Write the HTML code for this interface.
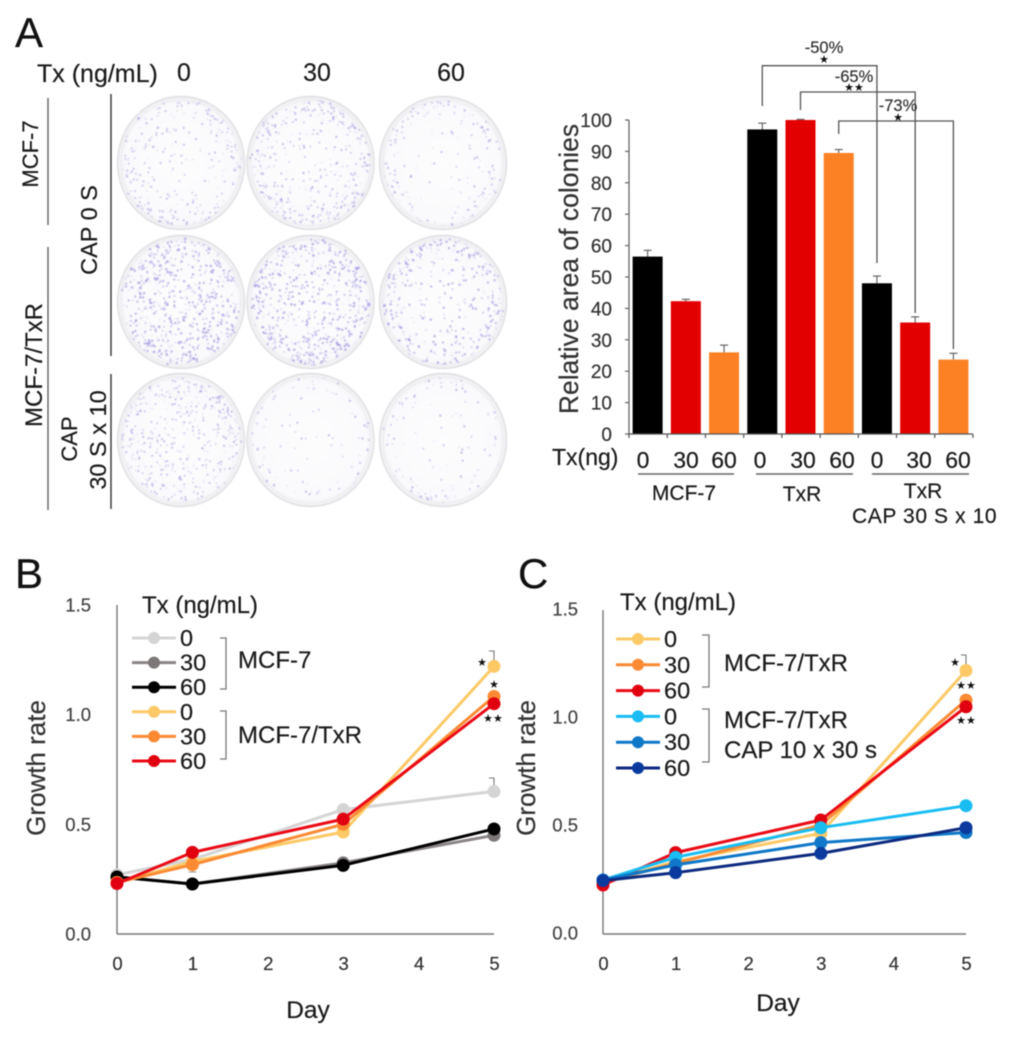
<!DOCTYPE html>
<html lang="en">
<head>
<meta charset="utf-8">
<title>Colony formation and growth rate figure</title>
<style>
html,body{margin:0;padding:0;background:#fff;width:1015px;height:1038px;overflow:hidden}
svg{display:block;filter:blur(0.45px)}
text{font-family:"Liberation Sans",Arial,sans-serif;stroke:currentColor;stroke-width:0.2px}
.star{font-family:"DejaVu Sans",sans-serif;stroke:none}
#plates{filter:blur(0.4px)}
</style>
</head>
<body>
<svg id="fig" xmlns="http://www.w3.org/2000/svg" width="1015" height="1038" viewBox="0 0 1015 1038">
  <defs>
    <radialGradient id="dish-shade">
      <stop offset="0" stop-color="#fdfdfe"/>
      <stop offset="0.88" stop-color="#fafafc"/>
      <stop offset="1" stop-color="#f1f1f4"/>
    </radialGradient>
  </defs>
  <g id="plates"></g>
  <g id="panel-a-labels">
    <text x="15" y="47" font-size="42" fill="#111" color="#111">A</text>
    <text x="37" y="82" font-size="25" fill="#1a1a1a" color="#1a1a1a">Tx (ng/mL)</text>
    <text x="184" y="81" font-size="25" fill="#1a1a1a" color="#1a1a1a" text-anchor="middle">0</text>
    <text x="317" y="81" font-size="25" fill="#1a1a1a" color="#1a1a1a" text-anchor="middle">30</text>
    <text x="451" y="81" font-size="25" fill="#1a1a1a" color="#1a1a1a" text-anchor="middle">60</text>
    <text transform="translate(38,154) rotate(-90)" font-size="22" fill="#1a1a1a" color="#1a1a1a" text-anchor="middle">MCF-7</text>
    <text transform="translate(42,365) rotate(-90)" font-size="24" fill="#1a1a1a" color="#1a1a1a" text-anchor="middle">MCF-7/TxR</text>
    <text transform="translate(97,230) rotate(-90)" font-size="23.5" fill="#1a1a1a" color="#1a1a1a" text-anchor="middle">CAP 0 S</text>
    <text transform="translate(77,439) rotate(-90)" font-size="22" fill="#1a1a1a" color="#1a1a1a" text-anchor="middle">CAP</text>
    <text transform="translate(106,440) rotate(-90)" font-size="23.5" fill="#1a1a1a" color="#1a1a1a" text-anchor="middle">30 S x 10</text>
    <line x1="48" y1="98" x2="48" y2="225" stroke="#555" stroke-width="1.3"/>
    <line x1="48" y1="247" x2="48" y2="510" stroke="#555" stroke-width="1.3"/>
    <line x1="111" y1="94" x2="111" y2="356" stroke="#333" stroke-width="1.4"/>
    <line x1="111" y1="374" x2="111" y2="509" stroke="#333" stroke-width="1.4"/>
  </g>
  <g id="bar-chart"></g>
  <g id="chart-b"></g>
  <g id="chart-c"></g>
</svg>
<script>
// ---------- Bar chart data ----------
const barGroups = ['MCF-7 0','MCF-7 30','MCF-7 60','TxR 0','TxR 30','TxR 60','CAP 0','CAP 30','CAP 60'];
const barValues = [56.5,42.3,26,97,100,89.5,48,35.5,23.7];
const barErrors = [2,0.6,2.3,2,0.2,1.1,2.3,1.8,2];
const barTicks = [0,10,20,30,40,50,60,70,80,90,100];
const barDoses = ['0','30','60','0','30','60','0','30','60'];

// ---------- Panel B data ----------
const days = [0,1,3,5];
const dayTicks = [0,1,2,3,4,5];
const growthTicks = ['0.0','0.5','1.0','1.5'];
const bGrey0 = [0.27,0.34,0.567,0.65];
const bGrey30 = [0.26,0.228,0.324,0.45];
const bBlack60 = [0.26,0.228,0.313,0.479];
const bYellow0 = [0.235,0.33,0.465,1.22];
const bOrange30 = [0.235,0.316,0.5,1.083];
const bRed60 = [0.23,0.372,0.524,1.05];

// ---------- Panel C data ----------
const cYellow0 = [0.24,0.335,0.466,1.22];
const cOrange30 = [0.24,0.327,0.505,1.083];
const cRed60 = [0.227,0.377,0.528,1.052];
const cCyan0 = [0.25,0.355,0.492,0.594];
const cBlue30 = [0.25,0.32,0.423,0.47];
const cNavy60 = [0.247,0.284,0.373,0.492];

const NS = 'http://www.w3.org/2000/svg';
function mk(parent, tag, attrs, name, text) {
  const el = document.createElementNS(NS, tag);
  for (const k in attrs) el.setAttribute(k, attrs[k]);
  if (tag === 'text' && attrs.fill) el.setAttribute('color', attrs.fill);
  
  
  if (text !== undefined) el.textContent = text;
  parent.appendChild(el);
  return el;
}

// ---------- Plates (texture only) ----------
(function () {
  const plates = document.getElementById('plates');
  const cols = [181, 310.5, 443];
  const rows = [163, 302, 440];
  const counts = [[260,380,170],[600,600,360],[420,90,110]];
  const edges = [[0.35,0.4,0.55],[0.15,0.15,0.45],[0.2,0.5,0.5]];
  let seed = 12345;
  const rnd = () => { seed = (seed * 1664525 + 1013904223) % 4294967296; return seed / 4294967296; };
  rows.forEach((cy, r) => cols.forEach((cx, c) => {
    const g = mk(plates, 'g', {}, 'plate-r' + (r + 1) + '-c' + (c + 1));
    mk(g, 'ellipse', {cx, cy, rx: 63.5, ry: 66.5, fill: 'url(#dish-shade)', stroke: '#cfcfd4', 'stroke-width': 0.9}, 'plate-dish');
    mk(g, 'ellipse', {cx, cy, rx: 60, ry: 63, fill: 'none', stroke: '#ebebee', 'stroke-width': 1}, 'plate-rim');
    let d = '';
    for (let i = 0; i < counts[r][c]; i++) {
      const a = rnd() * Math.PI * 2;
      const rad = rnd() < edges[r][c] ? 0.78 + rnd() * 0.2 : Math.sqrt(rnd()) * 0.95;
      const x = cx + Math.cos(a) * rad * 62;
      const y = cy + Math.sin(a) * rad * 65;
      const s = 0.35 + rnd() * (r === 1 ? 0.75 : 0.55);
      d += 'M' + (x - s).toFixed(1) + ' ' + y.toFixed(1) + 'a' + s.toFixed(2) + ' ' + s.toFixed(2) + ' 0 1 0 ' + (2 * s).toFixed(2) + ' 0a' + s.toFixed(2) + ' ' + s.toFixed(2) + ' 0 1 0 ' + (-2 * s).toFixed(2) + ' 0';
    }
    mk(g, 'path', {d, fill: '#8175d4', 'fill-opacity': 0.75}, 'plate-colonies');
  }));
})();

// ---------- Bar chart ----------
(function () {
  const root = document.getElementById('bar-chart');
  const x0 = 629, x1 = 973, y0 = 434, y100 = 120;
  const band = (x1 - x0) / barValues.length;
  const yb = v => y0 - (v / 100) * (y0 - y100);
  const xb = i => x0 + band * (i + 0.5);
  const colors = ['#000000','#e30000','#fc8125'];
  barValues.forEach((v, i) => {
    const cx = xb(i) - 0.5;
    const top = yb(v + barErrors[i]);
    mk(root, 'line', {x1: cx, x2: cx, y1: top, y2: yb(v), stroke: '#666', 'stroke-width': 1.2}, 'bar-error-stem');
    mk(root, 'line', {x1: cx - 4, x2: cx + 4, y1: top, y2: top, stroke: '#666', 'stroke-width': 1.2}, 'bar-error-cap');
    mk(root, 'rect', {x: cx - 15, y: yb(v), width: 30, height: y0 - yb(v), fill: colors[i % 3]}, 'bar-' + barGroups[i].toLowerCase().replace(/[^a-z0-9]+/g, '-'));
    mk(root, 'text', {x: [643,686,724,760,803,842,877,919,958][i], y: 468, 'font-size': 23, 'text-anchor': 'middle', fill: '#1a1a1a'}, 'x-dose-label', barDoses[i]);
  });
  mk(root, 'line', {x1: x0, x2: x0, y1: y100, y2: y0, stroke: '#666', 'stroke-width': 1.3}, 'y-axis');
  mk(root, 'line', {x1: x0 - 1, x2: x1, y1: y0, y2: y0, stroke: '#555', 'stroke-width': 1.3}, 'x-axis');
  barTicks.forEach(t => {
    mk(root, 'line', {x1: x0 - 4, x2: x0, y1: yb(t), y2: yb(t), stroke: '#666', 'stroke-width': 1.2}, 'y-tick');
    mk(root, 'text', {x: 612, y: yb(t) + 7, 'font-size': 19, 'text-anchor': 'end', fill: '#333'}, 'y-tick-label', t);
  });
  for (let i = 0; i <= barValues.length; i++) {
    mk(root, 'line', {x1: x0 + band * i, x2: x0 + band * i, y1: y0, y2: y0 + 4, stroke: '#555', 'stroke-width': 1.2}, 'x-tick');
  }
  mk(root, 'text', {transform: 'translate(578,269) rotate(-90)', 'font-size': 26.5, 'text-anchor': 'middle', fill: '#333'}, 'y-axis-title', 'Relative area of colonies');
  mk(root, 'text', {x: 552, y: 465, 'font-size': 23, fill: '#1a1a1a'}, 'x-tx-label', 'Tx(ng)');
  [[638,734],[756,853],[872,969]].forEach(s => mk(root, 'line', {x1: s[0], x2: s[1], y1: 474, y2: 474, stroke: '#666', 'stroke-width': 1.5}, 'group-underline'));
  mk(root, 'text', {x: 684, y: 500, 'font-size': 21, 'text-anchor': 'middle', fill: '#1a1a1a'}, 'group-label-mcf7', 'MCF-7');
  mk(root, 'text', {x: 802, y: 501, 'font-size': 21, 'text-anchor': 'middle', fill: '#1a1a1a'}, 'group-label-txr', 'TxR');
  mk(root, 'text', {x: 923, y: 498, 'font-size': 21, 'text-anchor': 'middle', fill: '#1a1a1a'}, 'group-label-txr-cap', 'TxR');
  mk(root, 'text', {x: 852, y: 523, 'font-size': 21, 'letter-spacing': 0.6, fill: '#1a1a1a'}, 'group-label-cap', 'CAP 30 S x 10');
  // significance brackets
  const br = [
    {from: 3, to: 6, fromY: 106, top: 65.7, toY: 263, label: '-50%', lx: 824, ly: 53, stars: '★', sy: 63},
    {from: 4, to: 7, fromY: 110, top: 92, toY: 313, label: '-65%', lx: 854, ly: 82, stars: '★★', sy: 91},
    {from: 5, to: 8, fromY: 134, top: 121, toY: 349, label: '-73%', lx: 898, ly: 111, stars: '★', sy: 121}
  ];
  br.forEach(b => {
    const xa = xb(b.from) - 0.5, xc = xb(b.to) - 0.5;
    mk(root, 'path', {d: 'M' + xa + ' ' + b.fromY + 'V' + b.top + 'H' + xc + 'V' + b.toY, fill: 'none', stroke: '#555', 'stroke-width': 1.3}, 'significance-bracket');
    mk(root, 'text', {x: b.lx, y: b.ly, 'font-size': 16.5, 'text-anchor': 'middle', fill: '#333'}, 'percent-change-label', b.label);
    mk(root, 'text', {class: 'star', x: b.lx, y: b.sy, 'font-size': 11, 'text-anchor': 'middle', fill: '#111'}, 'significance-stars', b.stars);
  });
})();

// ---------- Growth charts ----------
function growthChart(rootId, cfg) {
  const root = document.getElementById(rootId);
  const xs = d => cfg.x0 + (d / 5) * (cfg.x5 - cfg.x0);
  const ys = v => cfg.y0 - (v / 1.5) * (cfg.y0 - cfg.y15);
  mk(root, 'text', {x: cfg.letterX, y: 588, 'font-size': 42, fill: '#111'}, 'panel-letter', cfg.letter);
  mk(root, 'line', {x1: cfg.x0, x2: cfg.x0, y1: cfg.y15, y2: cfg.y0, stroke: '#777', 'stroke-width': 1.4}, 'y-axis');
  mk(root, 'line', {x1: cfg.x0, x2: cfg.x5, y1: cfg.y0, y2: cfg.y0, stroke: '#777', 'stroke-width': 1.4}, 'x-axis');
  growthTicks.forEach(t => {
    mk(root, 'text', {x: cfg.yLabelX, y: ys(parseFloat(t)) + cfg.yLabelDy, 'font-size': 18.5, 'text-anchor': 'end', fill: '#444'}, 'y-tick-label', t);
  });
  dayTicks.forEach(d => {
    mk(root, 'text', {x: xs(d) + 0.5, y: cfg.y0 + 36, 'font-size': 18.5, 'text-anchor': 'middle', fill: '#333'}, 'x-tick-label', d);
  });
  mk(root, 'text', {x: cfg.dayX, y: cfg.dayY, 'font-size': 24.5, 'text-anchor': 'middle', fill: '#1a1a1a'}, 'x-axis-title', 'Day');
  mk(root, 'text', {transform: 'translate(' + cfg.titleX + ',768) rotate(-90)', 'font-size': 26, 'text-anchor': 'middle', fill: '#333'}, 'y-axis-title', 'Growth rate');
  mk(root, 'text', {x: cfg.txX, y: cfg.txY, 'font-size': 24, fill: '#1a1a1a'}, 'legend-title', 'Tx (ng/mL)');
  // error caps
  cfg.caps.forEach(c => {
    const px = xs(5);
    mk(root, 'path', {d: 'M' + (px - 5) + ' ' + c.top + 'H' + px + 'V' + ys(c.v), fill: 'none', stroke: '#777', 'stroke-width': 1.1}, 'error-cap');
  });
  if (cfg.lowerCap) {
    const px = xs(cfg.lowerCap.day);
    mk(root, 'path', {d: 'M' + (px - 4) + ' ' + cfg.lowerCap.bottom + 'H' + (px + 4) + 'M' + px + ' ' + cfg.lowerCap.bottom + 'V' + ys(cfg.lowerCap.v), fill: 'none', stroke: '#999', 'stroke-width': 1.1}, 'error-cap-lower');
  }
  // series
  cfg.series.forEach(s => {
    const pts = days.map((d, i) => xs(d).toFixed(1) + ',' + ys(s.values[i]).toFixed(1)).join(' ');
    mk(root, 'polyline', {points: pts, fill: 'none', stroke: s.line, 'stroke-width': 3, 'stroke-linejoin': 'round'}, 'line-' + s.name);
    days.forEach((d, i) => {
      mk(root, 'circle', {cx: xs(d), cy: ys(s.values[i]), r: 6.5, fill: s.marker}, 'point-' + s.name);
    });
  });
  // legend
  cfg.series.forEach((s, i) => {
    const ly = cfg.legendY + i * cfg.legendStep;
    mk(root, 'line', {x1: cfg.legX1, x2: cfg.legX2, y1: ly, y2: ly, stroke: s.line, 'stroke-width': 3}, 'legend-line-' + s.name);
    mk(root, 'circle', {cx: (cfg.legX1 + cfg.legX2) / 2, cy: ly, r: 6, fill: s.marker}, 'legend-marker-' + s.name);
    mk(root, 'text', {x: cfg.legX2 + 4, y: ly + 8, 'font-size': 23.5, fill: '#1a1a1a'}, 'legend-entry-' + s.name, s.dose);
  });
  cfg.brackets.forEach(b => {
    mk(root, 'path', {d: 'M' + b[0] + ' ' + b[2] + 'H' + b[1] + 'V' + b[3] + 'H' + b[0], fill: 'none', stroke: '#777', 'stroke-width': 1.3}, 'legend-bracket');
  });
  cfg.groupLabels.forEach(l => {
    mk(root, 'text', {x: l[0], y: l[1], 'font-size': 24, fill: '#1a1a1a'}, 'legend-group-label', l[2]);
  });
  cfg.stars.forEach(s => {
    mk(root, 'text', {class: 'star', x: s[0], y: s[1], 'font-size': 11, 'text-anchor': 'middle', fill: '#111'}, 'significance-stars', s[2]);
  });
}

growthChart('chart-b', {
  letter: 'B', letterX: 15, x0: 117, x5: 494, y0: 934, y15: 605, yLabelX: 91, yLabelDy: 6.5,
  dayX: 308, dayY: 1018, titleX: 45, txX: 142, txY: 613,
  legX1: 132, legX2: 176, legendY: 638, legendStep: 24.6,
  caps: [{v: 1.22, top: 651}, {v: 0.65, top: 778}],
  lowerCap: {day: 1, v: 0.33, bottom: 872},
  brackets: [[220,226,638,689],[220,226,711,759]],
  groupLabels: [[238,668,'MCF-7'],[238,743,'MCF-7/TxR']],
  stars: [[482,666,'★'],[494,688,'★'],[493,722,'★★']],
  series: [
    {name: 'mcf7-0', dose: '0', values: bGrey0, line: '#d4d4d4', marker: '#d4d4d4'},
    {name: 'mcf7-30', dose: '30', values: bGrey30, line: '#8a8484', marker: '#7d7777'},
    {name: 'mcf7-60', dose: '60', values: bBlack60, line: '#000000', marker: '#000000'},
    {name: 'txr-0', dose: '0', values: bYellow0, line: '#fdc966', marker: '#fdc966'},
    {name: 'txr-30', dose: '30', values: bOrange30, line: '#fb8a33', marker: '#fb8a33'},
    {name: 'txr-60', dose: '60', values: bRed60, line: '#ea0b16', marker: '#e00010'}
  ]
});

growthChart('chart-c', {
  letter: 'C', letterX: 518, x0: 603, x5: 966, y0: 934, y15: 610, yLabelX: 578, yLabelDy: 5.5,
  dayX: 778, dayY: 1011, titleX: 535, txX: 620, txY: 610,
  legX1: 616, legX2: 660, legendY: 639, legendStep: 25.8,
  caps: [{v: 1.22, top: 655}],
  brackets: [[702,709,635,687],[702,709,709,762]],
  groupLabels: [[724,671,'MCF-7/TxR'],[724,728,'MCF-7/TxR'],[724,758,'CAP 10 x 30 s']],
  stars: [[955,666,'★'],[966,689,'★★'],[966,724,'★★']],
  series: [
    {name: 'txr-0', dose: '0', values: cYellow0, line: '#fdc966', marker: '#fdc966'},
    {name: 'txr-30', dose: '30', values: cOrange30, line: '#fb8a33', marker: '#fb8a33'},
    {name: 'txr-60', dose: '60', values: cRed60, line: '#ea0b16', marker: '#e00010'},
    {name: 'cap-0', dose: '0', values: cCyan0, line: '#19bdf2', marker: '#19bdf2'},
    {name: 'cap-30', dose: '30', values: cBlue30, line: '#0f78c8', marker: '#0f78c8'},
    {name: 'cap-60', dose: '60', values: cNavy60, line: '#0c2a80', marker: '#0a3a9e'}
  ]
});
</script>
</body>
</html>
